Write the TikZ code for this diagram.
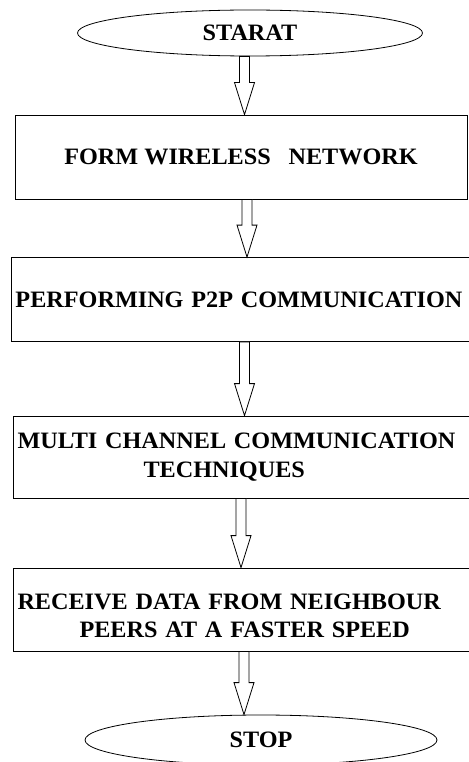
\documentclass[tikz,border=0pt]{standalone}
\usepackage{fontspec}
\setmainfont[FakeStretch=1.03]{Liberation Serif}
\usetikzlibrary{shapes.geometric,calc}

% hollow block arrow: from, to, x position
\newcommand{\flowarrow}[3]{%
  \draw[hollowarrow] let \p1=(#1.south), \p2=(#2.north) in
    (#3pt-5pt,\y1) -- (#3pt+5pt,\y1) -- (#3pt+5pt,\y2+32pt) -- (#3pt+10pt,\y2+32pt)
    -- (#3pt,\y2) -- (#3pt-10pt,\y2+32pt) -- (#3pt-5pt,\y2+32pt) -- cycle;}

\begin{document}
\begin{tikzpicture}[
    x=1pt, y=-1pt,
    terminal/.style={ellipse, draw, line width=0.8pt, inner sep=0pt, font=\fontsize{23.5}{26}\selectfont\bfseries},
    stepbox/.style={rectangle, draw, line width=0.8pt, inner xsep=4.5pt, minimum height=84pt, font=\fontsize{23.5}{28.5}\selectfont\bfseries},
    hollowarrow/.style={draw, line width=0.8pt, fill=white}
]
    \useasboundingbox (0,0) rectangle (468,762);

    \node [terminal, minimum width=345pt, minimum height=46pt] (start) at (250,33) {\raisebox{-2pt}{STARAT}};
    \node [stepbox, minimum width=452pt, align=center] (form) at (241,157) {\raisebox{-2pt}{FORM WIRELESS\hspace{0.5em} NETWORK}};
    \node [stepbox, minimum width=464pt, text width=455pt, align=left] (p2p) at (243,299.5) {\mbox{PERFORMING P2P COMMUNICATION}};
    \node [stepbox, minimum width=462pt, minimum height=82pt, text width=453pt, align=left] (multi) at (244,457) {\mbox{MULTI CHANNEL COMMUNICATION}\\\hspace*{126pt}TECHNIQUES};
    \node [stepbox, minimum width=462pt, minimum height=83pt, text width=453pt, align=left] (receive) at (244,609.5) {\rule{0pt}{28pt}\mbox{RECEIVE DATA FROM NEIGHBOUR}\\\hspace*{62pt}PEERS AT A FASTER SPEED};
    \node [terminal, minimum width=352pt, minimum height=50pt] (stop) at (261,740) {\raisebox{-5pt}{STOP}};

    \flowarrow{start}{form}{244.5}
    \flowarrow{form}{p2p}{247}
    \flowarrow{p2p}{multi}{244.5}
    \flowarrow{multi}{receive}{241}
    \flowarrow{receive}{stop}{244}
\end{tikzpicture}
\end{document}
